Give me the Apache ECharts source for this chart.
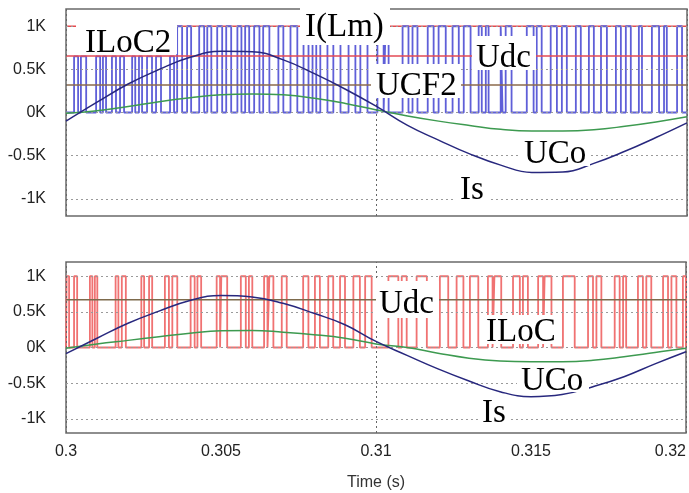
<!DOCTYPE html>
<html>
<head>
<meta charset="utf-8">
<script src="https://cdn.jsdelivr.net/npm/echarts@6/dist/echarts.min.js"></script>
<style>html,body{margin:0;padding:0;background:#fff}#main{width:689px;height:493px}</style>
</head>
<body>
<div id="main"></div>
<script>
// 正弦波采样时刻 (s)
let sineTimes = [0.300, 0.301, 0.302, 0.303, 0.304, 0.305, 0.306, 0.307, 0.308, 0.309, 0.310,
    0.311, 0.312, 0.313, 0.314, 0.315, 0.316, 0.317, 0.318, 0.319, 0.320]
// 上图
let isTop = [-100, 120, 330, 500, 640, 710, 705, 610, 450, 270, 70, -150, -320, -480, -610, -695, -690, -590, -450, -290, -120]
let ucoTop = [-10, 20, 70, 125, 170, 205, 215, 205, 165, 105, 30, -40, -100, -150, -195, -215, -215, -200, -160, -110, -50]
let ilmLevel = 1000
let udcTopLevel = 655
let ucf2Level = 320
// ILoC2 脉冲 [开始, 结束, 幅值]
let iloc2Pulses = [
    [0.30026, 0.30039, 650], [0.30048, 0.30065, 650], [0.30097, 0.30110, 650], [0.30119, 0.30129, 650],
    [0.30148, 0.30161, 650], [0.30174, 0.30187, 650], [0.30213, 0.30223, 650], [0.30235, 0.30245, 650],
    [0.30261, 0.30277, 650], [0.30290, 0.30306, 650], [0.30335, 0.30348, 650],
    [0.30358, 0.30374, 1000], [0.30390, 0.30403, 1000], [0.30429, 0.30445, 1000], [0.30455, 0.30468, 1000],
    [0.30487, 0.30503, 1000], [0.30516, 0.30532, 1000], [0.30552, 0.30565, 1000], [0.30577, 0.30590, 1000],
    [0.30606, 0.30623, 1000], [0.30635, 0.30655, 1000], [0.30684, 0.30700, 1000], [0.30723, 0.30745, 1000],
    [0.30765, 0.30781, 1000], [0.30794, 0.30806, 1000], [0.30819, 0.30842, 1000], [0.30861, 0.30884, 1000],
    [0.30910, 0.30932, 1000], [0.30948, 0.30971, 1000], [0.31003, 0.31023, 1000], [0.31029, 0.31039, 1000],
    [0.31084, 0.31103, 1000], [0.31116, 0.31132, 1000], [0.31165, 0.31184, 1000], [0.31200, 0.31223, 1000],
    [0.31245, 0.31265, 1000], [0.31281, 0.31303, 1000], [0.31329, 0.31339, 1000], [0.31352, 0.31361, 1000],
    [0.31400, 0.31406, 1000], [0.31416, 0.31435, 1000], [0.31484, 0.31506, 1000], [0.31516, 0.31532, 1000],
    [0.31561, 0.31581, 1000], [0.31597, 0.31613, 1000], [0.31642, 0.31658, 1000], [0.31684, 0.31700, 1000],
    [0.31723, 0.31742, 1000], [0.31771, 0.31787, 1000], [0.31803, 0.31819, 1000], [0.31845, 0.31855, 1000],
    [0.31887, 0.31910, 1000], [0.31926, 0.31935, 1000], [0.31968, 0.31984, 1000]
]
// 下图
let isBottom = [-85, 130, 340, 510, 660, 730, 710, 620, 480, 320, 85, -110, -300, -470, -620, -690, -660, -550, -410, -230, -60]
let ucoBottom = [-10, 50, 100, 150, 200, 235, 240, 215, 180, 130, 50, 0, -80, -150, -190, -200, -200, -180, -130, -70, -10]
let udcBottomLevel = 670
// ILoC 脉冲 [开始, 结束], 幅值 1K
let ilocPulses = [
    [0.30002, 0.30010], [0.30026, 0.30036], [0.30077, 0.30085], [0.30093, 0.30101],
    [0.30160, 0.30169], [0.30180, 0.30193], [0.30243, 0.30252], [0.30268, 0.30278],
    [0.30319, 0.30332], [0.30343, 0.30359], [0.30402, 0.30415], [0.30424, 0.30436],
    [0.30486, 0.30497], [0.30501, 0.30520], [0.30564, 0.30580], [0.30590, 0.30601],
    [0.30639, 0.30650], [0.30656, 0.30669], [0.30696, 0.30712], [0.30765, 0.30782],
    [0.30803, 0.30819], [0.30846, 0.30862], [0.30884, 0.30900], [0.30927, 0.30948],
    [0.30965, 0.30986], [0.31040, 0.31072], [0.31083, 0.31099], [0.31131, 0.31164],
    [0.31206, 0.31233], [0.31260, 0.31282], [0.31303, 0.31330], [0.31361, 0.31376],
    [0.31382, 0.31404], [0.31442, 0.31464], [0.31474, 0.31490], [0.31523, 0.31539],
    [0.31544, 0.31566], [0.31603, 0.31641], [0.31684, 0.31700], [0.31711, 0.31727],
    [0.31770, 0.31786], [0.31797, 0.31807], [0.31845, 0.31861], [0.31872, 0.31888],
    [0.31926, 0.31942], [0.31953, 0.31969], [0.31990, 0.32000]
]
let ilocLevel = 1000
// 刻度
let yTicks = [-1000, -500, 0, 500, 1000]
let xGridTicks = [0.305, 0.31, 0.315]

function stepData(pulses, defLevel) {
    let d = [[0.3, 0]]
    pulses.forEach(p => {
        let lv = p[2] === undefined ? defLevel : p[2]
        d.push([p[0], 0], [p[0], lv], [p[1], lv], [p[1], 0])
    })
    d.push([0.32, 0])
    return d
}
function sineData(vals) {
    return sineTimes.map((t, i) => [t, vals[i]])
}
function flat(v) {
    return [[0.3, v], [0.32, v]]
}
function line(idx, data, color, width, z, smooth) {
    return {
        type: 'line', xAxisIndex: idx, yAxisIndex: idx, data: data, showSymbol: false,
        smooth: smooth ? 0.45 : false, silent: true, z: z, animation: false,
        lineStyle: { color: color, width: width }
    }
}
function gridSeries(idx) {
    return {
        type: 'line', xAxisIndex: idx, yAxisIndex: idx, data: [[0.3, 0]], showSymbol: false,
        lineStyle: { opacity: 0 }, z: 1, silent: true, animation: false,
        markLine: {
            silent: true, symbol: 'none', label: { show: false }, animation: false,
            data: yTicks.map(v => ({ yAxis: v, lineStyle: { color: '#9a9a9a', type: [2, 3], width: 1 } }))
                .concat(xGridTicks.map(v => ({ xAxis: v, lineStyle: { color: '#666', type: [2, 3], width: 1 } })))
        }
    }
}

let yAxisBase = {
    type: 'value', min: -1200, max: 1200, interval: 100,
    axisLine: { show: false }, axisTick: { show: false }, splitLine: { show: false },
    axisLabel: {
        margin: 20, color: '#222', fontSize: 16, fontFamily: 'Arial',
        formatter: v => (Math.abs(v) % 500 === 0 ? (v / 1000) + 'K' : '')
    }
}
let xAxisBase = {
    type: 'value', min: 0.3, max: 0.32, interval: 0.005,
    axisLine: { show: false }, axisTick: { show: false }, splitLine: { show: false }
}

// 文字标注 (白底)
let labels = [
    ['ILoC2', 85, 43, [76, 20, 177, 54]],
    ['I(Lm)', 305, 27, [300, 4, 390, 45]],
    ['Udc', 476, 58, [472, 36, 536, 70]],
    ['UCF2', 376, 86, [371, 64, 461, 98]],
    ['UCo', 524, 154, [520, 139, 590, 166]],
    ['Is', 460, 190, [456, 176, 488, 201]],
    ['Udc', 379, 304, [376, 281, 439, 318]],
    ['ILoC', 486, 332, [481, 315, 561, 344]],
    ['UCo', 521, 381, [517, 366, 589, 392]],
    ['Is', 482, 413, [478, 398, 509, 423]]
]
let graphic = []
labels.forEach(l => {
    let b = l[3]
    graphic.push({
        type: 'rect', z: 50, silent: true,
        shape: { x: b[0], y: b[1], width: b[2] - b[0], height: b[3] - b[1] },
        style: { fill: '#fff' }
    })
    graphic.push({
        type: 'text', z: 51, silent: true, x: l[1], y: l[2],
        style: { text: l[0], font: '33px "Liberation Serif"', fill: '#000', align: 'left', verticalAlign: 'middle' }
    })
})

let chart = echarts.init(document.getElementById('main'))
let option = {
    backgroundColor: '#fff',
    animation: false,
    grid: [
        { left: 66, top: 9, width: 621, height: 207, show: true, borderColor: '#6a6a6a', borderWidth: 1.5, backgroundColor: '#fff', containLabel: false },
        { left: 66, top: 262, width: 621, height: 171, show: true, borderColor: '#6a6a6a', borderWidth: 1.5, backgroundColor: '#fff', containLabel: false }
    ],
    xAxis: [
        Object.assign({}, xAxisBase, { gridIndex: 0, axisLabel: { show: false } }),
        Object.assign({}, xAxisBase, {
            gridIndex: 1,
            name: 'Time (s)', nameLocation: 'middle', nameGap: 42,
            nameTextStyle: { color: '#333', fontSize: 16, fontFamily: 'Arial' },
            axisLabel: {
                margin: 11, color: '#222', fontSize: 16, fontFamily: 'Arial', alignMaxLabel: 'right',
                formatter: v => String(+v.toFixed(3))
            }
        })
    ],
    yAxis: [
        Object.assign({}, yAxisBase, { gridIndex: 0 }),
        Object.assign({}, yAxisBase, { gridIndex: 1 })
    ],
    series: [
        gridSeries(0),
        gridSeries(1),
        // 上图
        line(0, flat(ilmLevel), '#e8484c', 1.5, 2),
        line(0, stepData(iloc2Pulses), '#5f5fd8', 1.8, 3),
        line(0, flat(udcTopLevel), '#e34a55', 1.5, 4),
        line(0, flat(ucf2Level), '#8b6a4c', 1.5, 4),
        line(0, sineData(ucoTop), '#3d9a50', 1.5, 5, true),
        line(0, sineData(isTop), '#28287e', 1.5, 6, true),
        // 下图
        line(1, stepData(ilocPulses, ilocLevel), '#f07272', 1.8, 3),
        line(1, flat(udcBottomLevel), '#7d6a4c', 1.5, 4),
        line(1, sineData(ucoBottom), '#3d9a50', 1.5, 5, true),
        line(1, sineData(isBottom), '#28287e', 1.5, 6, true)
    ],
    graphic: graphic
}
chart.setOption(option)
</script>
</body>
</html>
